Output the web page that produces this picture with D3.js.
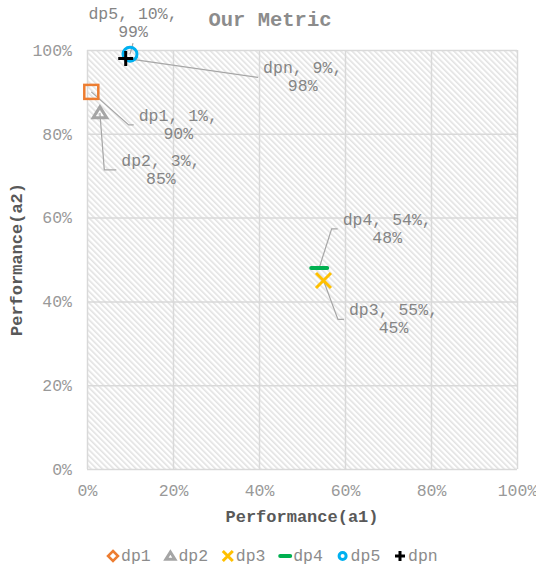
<!DOCTYPE html>
<html>
<head>
<meta charset="utf-8">
<script src="https://cdn.jsdelivr.net/npm/d3@7"></script>
<style>
  body { margin: 0; background: #fff; }
  svg { display: block; }
  text { font-family: "Liberation Mono", "Courier New", monospace; }
</style>
</head>
<body>
<script>
// data
const seriesNames = ["dp1", "dp2", "dp3", "dp4", "dp5", "dpn"];
const xValues = [0.01, 0.03, 0.55, 0.54, 0.10, 0.09];
const yValues = [0.90, 0.85, 0.45, 0.48, 0.99, 0.98];
const xTicks = [0, 0.2, 0.4, 0.6, 0.8, 1];
const yTicks = [0, 0.2, 0.4, 0.6, 0.8, 1];

const width = 536, height = 569;
const plot = { left: 87, right: 517, top: 50, bottom: 469 };
const pct = d3.format(".0%");

// marker and label styling per series
const styles = {
    dp1: { color: "#ED7D31", shape: "square",   size: 14, dx: 87,  dy: 29,  elbow: 5 },
    dp2: { color: "#A5A5A5", shape: "triangle", size: 15, dx: 61,  dy: 53,  elbow: 12 },
    dp3: { color: "#FFC000", shape: "x",        size: 15, dx: 70,  dy: 35,  elbow: 6 },
    dp4: { color: "#00B050", shape: "dash",     size: 20, dx: 68,  dy: -43, elbow: 6 },
    dp5: { color: "#00B0F0", shape: "circle",   size: 17, dx: 3,   dy: -35, above: true },
    dpn: { color: "#000000", shape: "plus",     size: 15, dx: 177, dy: 15,  elbow: 0 }
};

const points = seriesNames.map((name, i) => ({ name, x: xValues[i], y: yValues[i] }));

const svg = d3.select("body").append("svg")
    .attr("width", width)
    .attr("height", height);

// hatched plot background
const defs = svg.append("defs");
defs.append("pattern")
    .attr("id", "hatch")
    .attr("patternUnits", "userSpaceOnUse")
    .attr("width", 4)
    .attr("height", 4)
    .attr("patternTransform", "rotate(-45)")
    .append("rect")
    .attr("width", 1.6)
    .attr("height", 4)
    .attr("fill", "#e2e2e2");

const x = d3.scaleLinear().domain([0, 1]).range([plot.left, plot.right]);
const y = d3.scaleLinear().domain([0, 1]).range([plot.bottom, plot.top]);

svg.append("rect")
    .attr("x", plot.left)
    .attr("y", plot.top)
    .attr("width", plot.right - plot.left)
    .attr("height", plot.bottom - plot.top)
    .attr("fill", "url(#hatch)");

// gridlines
svg.append("g")
    .attr("class", "grid-x")
    .attr("transform", `translate(0,${plot.bottom})`)
    .call(d3.axisBottom(x).tickValues(xTicks).tickSize(-(plot.bottom - plot.top)).tickFormat(""))
    .call(g => g.select(".domain").remove());

svg.append("g")
    .attr("class", "grid-y")
    .attr("transform", `translate(${plot.left},0)`)
    .call(d3.axisLeft(y).tickValues(yTicks).tickSize(-(plot.right - plot.left)).tickFormat(""))
    .call(g => g.select(".domain").remove());

svg.selectAll(".grid-x line, .grid-y line")
    .attr("stroke", "#d9d9d9")
    .attr("stroke-width", 1.5);

// tick labels
svg.append("g")
    .attr("class", "x-axis")
    .attr("transform", `translate(0,${plot.bottom})`)
    .call(d3.axisBottom(x).tickValues(xTicks).tickFormat(pct).tickSize(0).tickPadding(15))
    .call(g => g.select(".domain").remove());

svg.append("g")
    .attr("class", "y-axis")
    .attr("transform", `translate(${plot.left},0)`)
    .call(d3.axisLeft(y).tickValues(yTicks).tickFormat(pct).tickSize(0).tickPadding(15))
    .call(g => g.select(".domain").remove());

svg.selectAll(".x-axis text, .y-axis text")
    .attr("font-size", 16.5)
    .attr("fill", "#999999");

// titles
svg.append("text")
    .attr("x", 270)
    .attr("y", 26)
    .attr("text-anchor", "middle")
    .attr("font-size", 20.5)
    .attr("font-weight", "bold")
    .attr("fill", "#8c8c8c")
    .text("Our Metric");

svg.append("text")
    .attr("x", 302)
    .attr("y", 522)
    .attr("text-anchor", "middle")
    .attr("font-size", 17)
    .attr("font-weight", "bold")
    .attr("fill", "#595959")
    .text("Performance(a1)");

svg.append("text")
    .attr("transform", `translate(22,${(plot.top + plot.bottom) / 2}) rotate(-90)`)
    .attr("text-anchor", "middle")
    .attr("font-size", 17)
    .attr("font-weight", "bold")
    .attr("fill", "#595959")
    .text("Performance(a2)");

// marker drawing
function drawMarker(g, shape, color, s) {
    const h = s / 2;
    if (shape === "square") {
        g.append("rect").attr("x", -h).attr("y", -h).attr("width", s).attr("height", s)
            .attr("fill", "none").attr("stroke", color).attr("stroke-width", 2.5);
    } else if (shape === "diamond") {
        g.append("path").attr("d", `M0,${-h}L${h},0L0,${h}L${-h},0Z`)
            .attr("fill", "none").attr("stroke", color).attr("stroke-width", 2.5);
    } else if (shape === "triangle") {
        g.append("path").attr("d", `M0,${-h * 0.8}L${h * 0.9},${h * 0.65}L${-h * 0.9},${h * 0.65}Z`)
            .attr("fill", "none").attr("stroke", color).attr("stroke-width", 3);
    } else if (shape === "x") {
        g.append("path").attr("d", `M${-h},${-h}L${h},${h}M${h},${-h}L${-h},${h}`)
            .attr("stroke", color).attr("stroke-width", 3);
    } else if (shape === "dash") {
        g.append("line").attr("x1", -h + 2).attr("x2", h - 2)
            .attr("stroke", color).attr("stroke-width", 4).attr("stroke-linecap", "round");
    } else if (shape === "circle") {
        g.append("circle").attr("r", h - 1.5)
            .attr("fill", "none").attr("stroke", color).attr("stroke-width", 3);
    } else if (shape === "plus") {
        g.append("path").attr("d", `M${-h},0L${h},0M0,${-h}L0,${h}`)
            .attr("stroke", color).attr("stroke-width", 3);
    }
}

// data labels with leader lines
const labelLayer = svg.append("g").attr("class", "labels");
const leaderLayer = svg.insert("g", ".labels").attr("class", "leaders");

points.forEach(p => {
    const st = styles[p.name];
    const px = x(p.x), py = y(p.y);
    const cx = px + st.dx, by = py + st.dy;
    const t = labelLayer.append("text")
        .attr("text-anchor", "middle")
        .attr("font-size", 16.5)
        .attr("fill", "#858585");
    t.append("tspan").attr("x", cx).attr("y", by).text(`${p.name}, ${pct(p.x)},`);
    t.append("tspan").attr("x", cx).attr("y", by + 18).text(pct(p.y));

    let pts;
    if (st.above) {
        pts = [[px, py], [cx, by + 24]];
    } else {
        const w = t.node().getBBox().width;
        const endX = cx - w / 2 - 5, endY = by + 4;
        pts = [[px, py], [endX - st.elbow, endY], [endX, endY]];
    }
    leaderLayer.append("polyline")
        .attr("points", pts.map(d => d.join(",")).join(" "))
        .attr("fill", "none")
        .attr("stroke", "#a6a6a6")
        .attr("stroke-width", 1.2);
});

// markers
svg.append("g").attr("class", "markers")
    .selectAll("g")
    .data(points)
    .join("g")
    .attr("transform", d => `translate(${x(d.x)},${y(d.y)})`)
    .each(function(d) {
        const st = styles[d.name];
        drawMarker(d3.select(this), st.shape, st.color, st.size);
    });

// legend
const legend = svg.append("g").attr("class", "legend")
    .selectAll("g")
    .data(points)
    .join("g")
    .attr("transform", (d, i) => `translate(${107 + i * 57.4},556)`);

legend.each(function(d) {
    const st = styles[d.name];
    const g = d3.select(this).append("g").attr("transform", "translate(6,0)");
    drawMarker(g, st.shape === "square" ? "diamond" : st.shape, st.color, st.shape === "dash" ? 14 : 10);
});

legend.append("text")
    .attr("x", 14)
    .attr("y", 5)
    .attr("font-size", 16.5)
    .attr("fill", "#8c8c8c")
    .text(d => d.name);
</script>
</body>
</html>
